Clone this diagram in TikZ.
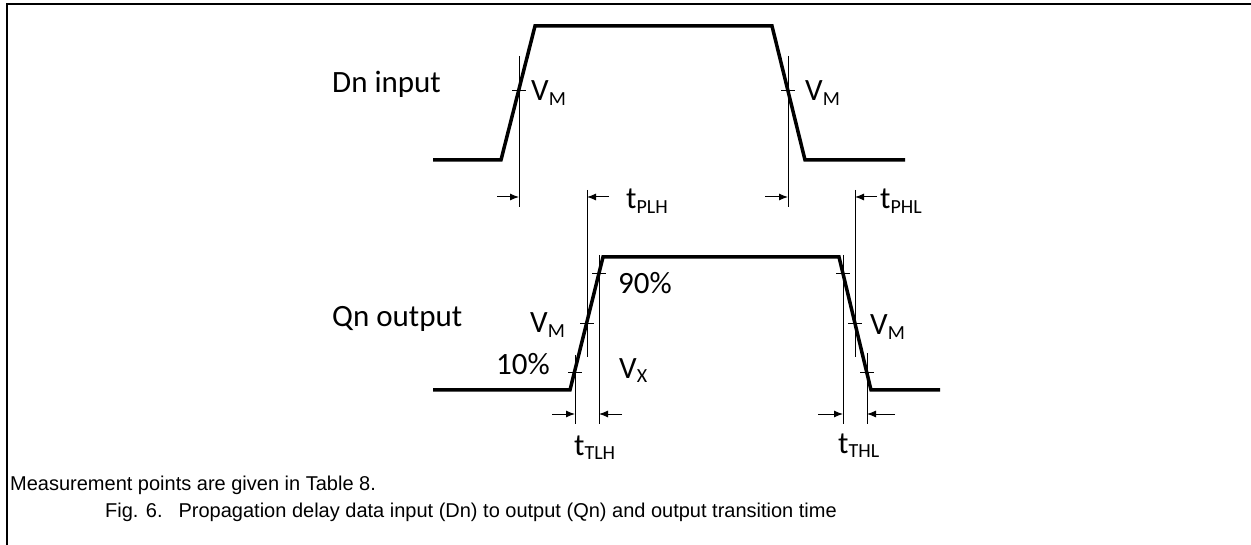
\documentclass[tikz,border=0pt]{standalone}
\usepackage{fontspec}
\setmainfont{Carlito}
\newfontfamily\capfont{Liberation Sans}
\usetikzlibrary{arrows.meta}
\newcommand{\lo}[1]{\raisebox{-4.5pt}{\fontsize{20}{20}\selectfont #1}}

\begin{document}
\begin{tikzpicture}[x=1pt, y=-1pt, >={Latex[length=9pt,width=7pt]},
  font=\fontsize{31}{36}\selectfont,
  wave/.style={line width=3.5pt, line join=miter},
  guide/.style={line width=0.9pt},
  dimarrow/.style={->, line width=1pt},
  lbl/.style={anchor=base west, inner sep=0pt},
  captext/.style={anchor=base west, inner sep=0pt, font=\capfont\fontsize{20}{24}\selectfont}]
  \useasboundingbox (0,0) rectangle (1251,545);
  \draw[line width=2.5pt] (1251,4) -- (7,4) -- (7,545);

  % waveforms
  \node[lbl] (dnlbl) at (332,93) {Dn input};
  \node[lbl] (qnlbl) at (332,327) {Qn output};
  \draw[wave] (433,160) -- (501,160) -- (535,26) -- (772,26) -- (805,160) -- (905,160);
  \draw[wave] (433,390) -- (570,390) -- (603,257) -- (839,257) -- (871,390) -- (940,390);

  % level ticks and reference lines
  \foreach \x/\y in {519/90, 788/90, 599/273, 587/323, 575/372, 843/273, 855/323, 867/372}
    \draw[guide] (\x-7,\y) -- (\x+7,\y);
  \foreach \x/\ya/\yb in {519/56/207, 788/56/207, 587/190/357, 855/190/357,
                          575/355/424, 599/255/424, 843/255/424, 867/353/424}
    \draw[guide] (\x,\ya) -- (\x,\yb);

  % timing arrows
  \foreach \n/\xa/\xb/\y in {dr/497/519/197, pl/609/587/197, df/765/788/197, ph/877/855/197,
                             tl/552/575/414, th/622/599/414, hl/818/843/414, lh/895/867/414} {
    \coordinate (\n tail) at (\xa,\y);
    \coordinate (\n tip) at (\xb,\y);
    \draw[dimarrow] (\n tail) -- (\n tip);
  }

  \node[lbl] (vm1) at (531,101) {V\lo{M}};
  \node[lbl] (vm2) at (805,101) {V\lo{M}};
  \node[lbl] (tplh) at (626,209) {t\lo{PLH}};
  \node[lbl] (tphl) at (880,209) {t\lo{PHL}};
  \node[lbl] (p90) at (618,294) {90\%};
  \node[lbl] (vm3) at (530,333) {V\lo{M}};
  \node[lbl] (p10) at (496,375) {10\%};
  \node[lbl] (vx) at (619,378) {V\lo{X}};
  \node[lbl] (vm4) at (870,335) {V\lo{M}};
  \node[lbl] (ttlh) at (574,455) {t\lo{TLH}};
  \node[lbl] (tthl) at (838,453) {t\lo{THL}};

  \node[captext] (note) at (10,490) {Measurement points are given in Table 8.};
  \node[captext] (figcap) at (105,517) {Fig. 6.\hspace{16pt}Propagation delay data input (Dn) to output (Qn) and output transition time};
\end{tikzpicture}
\end{document}
